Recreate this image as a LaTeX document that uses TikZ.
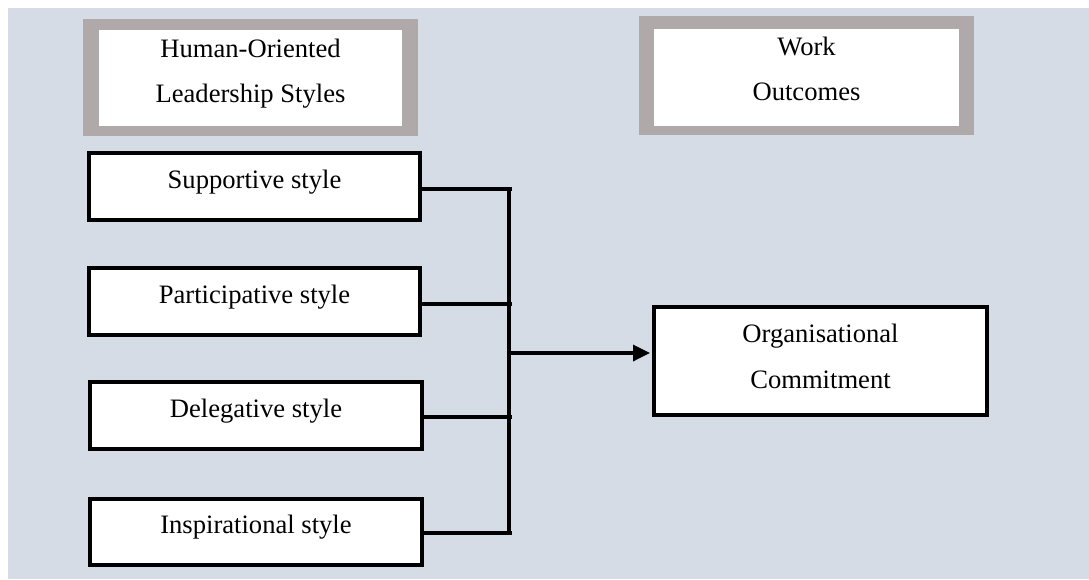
\documentclass[tikz,border=0pt]{standalone}
\usepackage{fontspec}
\setmainfont{Liberation Serif}
\usetikzlibrary{arrows.meta,calc}
\definecolor{bgblue}{RGB}{213,220,229}
\definecolor{framegray}{RGB}{175,170,169}
\begin{document}
\begin{tikzpicture}[x=1pt,y=-1pt,
  txt/.style={font=\fontsize{26.6}{45}\selectfont, align=center, inner sep=0pt},
  frame/.style={fill=framegray, draw=none, inner sep=0pt},
  headbox/.style={txt, fill=white, draw=none},
  boxbase/.style={txt, fill=white, draw=black, line width=4pt},
  stylebox/.style={boxbase, minimum width=331pt, minimum height=67pt, text height=20pt, text depth=17pt},
  conn/.style={line width=3.4pt},
]
\fill[white] (0,0) rectangle (1089,579);
\fill[bgblue] (8,8) rectangle (1089,579);
\useasboundingbox (0,0) rectangle (1089,579);

% header boxes
\node[frame, minimum width=335pt, minimum height=117pt] (hfr) at (250.5,77.5) {};
\node[headbox, minimum width=303pt, minimum height=96pt] (hum) at (250.5,78)
  {\rule{0pt}{20pt}Human-Oriented\\Leadership Styles\rule[-17pt]{0pt}{17pt}};
\node[frame, minimum width=335pt, minimum height=119pt] (wfr) at (806.5,75.5) {};
\node[headbox, minimum width=305pt, minimum height=97pt] (wo) at (806.5,77.5)
  {\rule{0pt}{20pt}Work\\Outcomes\rule[-20pt]{0pt}{20pt}};

% style boxes
\node[stylebox] (sup) at (254.5,186.5) {Supportive style};
\node[stylebox] (par) at (254.5,301.5) {Participative style};
\node[stylebox, minimum width=332pt] (del) at (256,415.5) {Delegative style};
\node[stylebox, minimum width=332pt, minimum height=66pt] (ins) at (256,532) {Inspirational style};

% outcome box
\node[boxbase, minimum width=333pt, minimum height=108pt, font=\fontsize{26.6}{46}\selectfont] (org) at (820.5,361)
  {\rule{0pt}{22pt}Organisational\\Commitment\rule[-14pt]{0pt}{14pt}};

% connectors
\coordinate (bus) at (512,0);
\coordinate (vtop) at (509,187.5);
\coordinate (vbot) at (509,534.5);
\coordinate (arr) at (510,353);
\draw[conn] ([yshift=-2.5pt]sup.east) -- ([yshift=-2.5pt]sup.east -| bus);
\draw[conn] ([yshift=-2.5pt]par.east) -- ([yshift=-2.5pt]par.east -| bus);
\draw[conn] ([yshift=-1.5pt]del.east) -- ([yshift=-1.5pt]del.east -| bus);
\draw[conn] ([yshift=-1pt]ins.east) -- ([yshift=-1pt]ins.east -| bus);
\draw[conn] (vtop) -- (vbot);
\draw[conn, -{Triangle[length=17pt,width=16pt]}, shorten >=2pt] (arr) -- (arr -| org.west);
\end{tikzpicture}
\end{document}
